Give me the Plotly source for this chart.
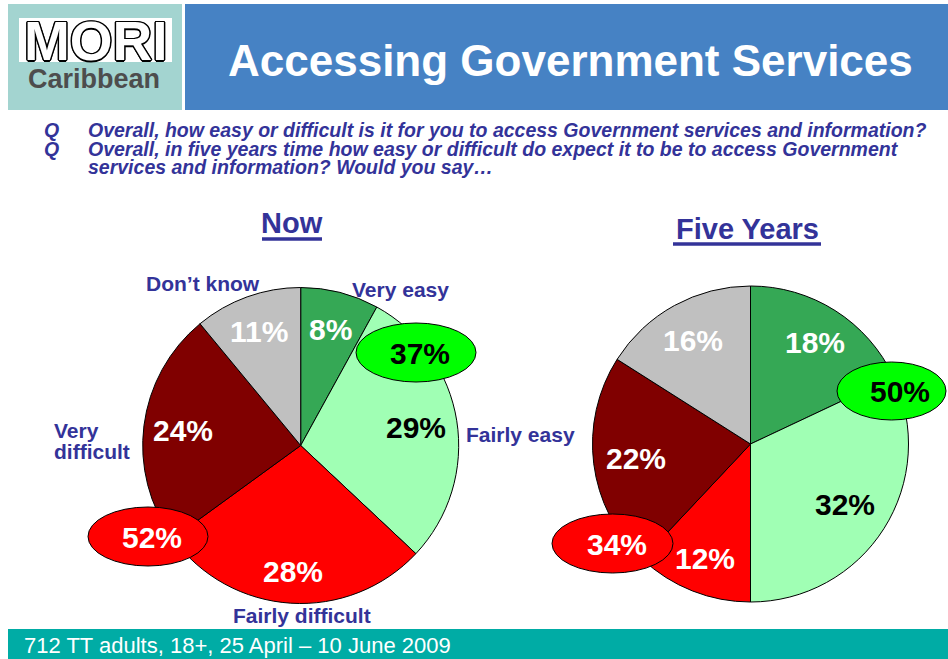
import math
import plotly.graph_objects as go

# ---- data -------------------------------------------------------------
categories = ["Very easy", "Fairly easy", "Fairly difficult", "Very difficult", "Don’t know"]
now_values = [8, 29, 28, 24, 11]
five_values = [18, 32, 12, 22, 16]
easy_cats = ["Very easy", "Fairly easy"]
difficult_cats = ["Fairly difficult", "Very difficult"]

question_lines = [
    ("Q", "Overall, how easy or difficult is it for you to access Government services and information?"),
    ("Q", "Overall, in five years time how easy or difficult do expect it to be to access Government"),
    ("", "services and information? Would you say…"),
]
title_text = "Accessing Government Services"
footer_text = "712 TT adults, 18+, 25 April – 10 June 2009"

# ---- styling ----------------------------------------------------------
W, H = 948, 659
FONT = "Liberation Sans, Arial, sans-serif"
NAVY = "#333399"
slice_colors = ["#35A855", "#A0FFB4", "#FF0000", "#800000", "#C0C0C0"]
value_font_colors = ["white", "black", "white", "white", "white"]

# pie placement in pixels: centre x, centre y, radius
pies = {
    "Now": dict(cx=300.7, cy=445.5, r=158, values=now_values,
                rfrac=[0.76, 0.74, 0.80, 0.75, 0.77],
                title_x=292, title_y=223, underline=(262, 322, 239)),
    "Five Years": dict(cx=750.5, cy=444.0, r=158, values=five_values,
                       rfrac=[0.76, 0.71, 0.78, 0.73, 0.75],
                       title_x=747, title_y=229, underline=(673, 821, 244)),
}

# category captions around the "Now" pie (pixel positions)
caption_pos = {
    "Very easy": (400, 289, "center"),
    "Fairly easy": (520, 434, "center"),
    "Fairly difficult": (302, 615, "center"),
    "Don’t know": (203, 283, "center"),
}
very_difficult_lines = [("Very", 52, 430), ("difficult", 52, 451)]

# total bubbles: (x0, y0, x1, y1, text x, text y, fill, font colour)
bubble_style = {
    ("Now", "easy"): (356, 323, 476, 382, 420, 353, "#00FF00", "black"),
    ("Now", "difficult"): (88, 507, 208, 566, 152, 537, "#FF0000", "white"),
    ("Five Years", "easy"): (837, 362, 946, 420, 900, 391, "#00FF00", "black"),
    ("Five Years", "difficult"): (552, 514, 673, 573, 617, 544, "#FF0000", "white"),
}


def px(x):
    return x / W


def py(y):
    return 1 - y / H


fig = go.Figure()
annotations = []
shapes = []

# header blocks and footer bar
shapes += [
    dict(type="rect", xref="paper", yref="paper", x0=px(8), x1=px(182), y0=py(110), y1=py(4),
         fillcolor="#A3D4D0", line=dict(width=0), layer="below"),
    dict(type="rect", xref="paper", yref="paper", x0=px(185), x1=px(948), y0=py(110), y1=py(4),
         fillcolor="#4682C4", line=dict(width=0), layer="below"),
    dict(type="rect", xref="paper", yref="paper", x0=px(19), x1=px(172), y0=py(62), y1=py(18),
         fillcolor="white", line=dict(width=0), layer="below"),
    dict(type="rect", xref="paper", yref="paper", x0=px(8), x1=px(948), y0=py(659), y1=py(629),
         fillcolor="#00ACA5", line=dict(width=0), layer="below"),
]
outline = ("1.5px 0 0 #000, -1.5px 0 0 #000, 0 1.5px 0 #000, 0 -1.5px 0 #000, "
           "1px 1px 0 #000, -1px -1px 0 #000, 1px -1px 0 #000, -1px 1px 0 #000")
annotations += [
    dict(x=px(96), y=py(41), text="<b>MORI</b>", showarrow=False, xanchor="center", yanchor="middle",
         font=dict(family=FONT, size=55, color="white", shadow=outline)),
    dict(x=px(94), y=py(79), text="<b>Caribbean</b>", showarrow=False, xanchor="center", yanchor="middle",
         font=dict(family=FONT, size=27, color="#4D4D4D")),
    dict(x=px(570), y=py(60), text=f"<b>{title_text}</b>", showarrow=False, xanchor="center", yanchor="middle",
         font=dict(family=FONT, size=44, color="white")),
    dict(x=px(22), y=py(645), text=footer_text, showarrow=False, xanchor="left", yanchor="middle",
         font=dict(family=FONT, size=22, color="white")),
]

# question text
for (q, line), y in zip(question_lines, [130, 149, 167]):
    if q:
        annotations.append(dict(x=px(42), y=py(y), text=f"<b><i>{q}</i></b>", showarrow=False,
                                xanchor="left", yanchor="middle",
                                font=dict(family=FONT, size=19.5, color=NAVY)))
    annotations.append(dict(x=px(86), y=py(y), text=f"<b><i>{line}</i></b>", showarrow=False,
                            xanchor="left", yanchor="middle",
                            font=dict(family=FONT, size=19.5, color=NAVY)))

# pies, value labels, headings and total bubbles
for name, p in pies.items():
    cx, cy, r = p["cx"], p["cy"], p["r"]
    vals = p["values"]
    fig.add_trace(go.Pie(
        labels=categories, values=vals, sort=False, direction="clockwise", rotation=0,
        marker=dict(colors=slice_colors, line=dict(color="black", width=1)),
        textinfo="none", hoverinfo="label+percent", showlegend=False,
        domain=dict(x=[px(cx - r), px(cx + r)], y=[py(cy + r), py(cy - r)]),
    ))
    total = sum(vals)
    cum = 0
    for v, fc, rf in zip(vals, value_font_colors, p["rfrac"]):
        theta = math.radians((cum + v / 2) / total * 360)
        cum += v
        lx = cx + rf * r * math.sin(theta)
        ly = cy - rf * r * math.cos(theta)
        annotations.append(dict(x=px(lx), y=py(ly), text=f"<b>{round(100 * v / total)}%</b>",
                                showarrow=False, xanchor="center", yanchor="middle",
                                font=dict(family=FONT, size=30, color=fc)))

    annotations.append(dict(x=px(p["title_x"]), y=py(p["title_y"]),
                            text=f"<b>{name}</b>", showarrow=False,
                            xanchor="center", yanchor="middle",
                            font=dict(family=FONT, size=29, color=NAVY)))
    ux0, ux1, uy = p["underline"]
    shapes.append(dict(type="line", xref="paper", yref="paper", x0=px(ux0), x1=px(ux1),
                       y0=py(uy), y1=py(uy), line=dict(color=NAVY, width=3.5)))

    groups = {"easy": easy_cats, "difficult": difficult_cats}
    for key, cats in groups.items():
        x0, y0, x1, y1, tx, ty, fill, tcol = bubble_style[(name, key)]
        group_total = sum(v for c, v in zip(categories, vals) if c in cats)
        shapes.append(dict(type="circle", xref="paper", yref="paper", x0=px(x0), x1=px(x1),
                           y0=py(y1), y1=py(y0), fillcolor=fill,
                           line=dict(color="black", width=1), layer="above"))
        annotations.append(dict(x=px(tx), y=py(ty), text=f"<b>{group_total}%</b>", showarrow=False,
                                xanchor="center", yanchor="middle",
                                font=dict(family=FONT, size=30, color=tcol)))

# category captions
for cat, (x, y, anchor) in caption_pos.items():
    annotations.append(dict(x=px(x), y=py(y), text=f"<b>{cat}</b>", showarrow=False,
                            xanchor=anchor, yanchor="middle",
                            font=dict(family=FONT, size=21, color=NAVY)))
for word, x, y in very_difficult_lines:
    annotations.append(dict(x=px(x), y=py(y), text=f"<b>{word}</b>", showarrow=False,
                            xanchor="left", yanchor="middle",
                            font=dict(family=FONT, size=21, color=NAVY)))

fig.update_layout(
    width=W, height=H, margin=dict(l=0, r=0, t=0, b=0),
    paper_bgcolor="white", plot_bgcolor="white",
    shapes=shapes, annotations=annotations, showlegend=False,
)

fig.write_html("out.html")
